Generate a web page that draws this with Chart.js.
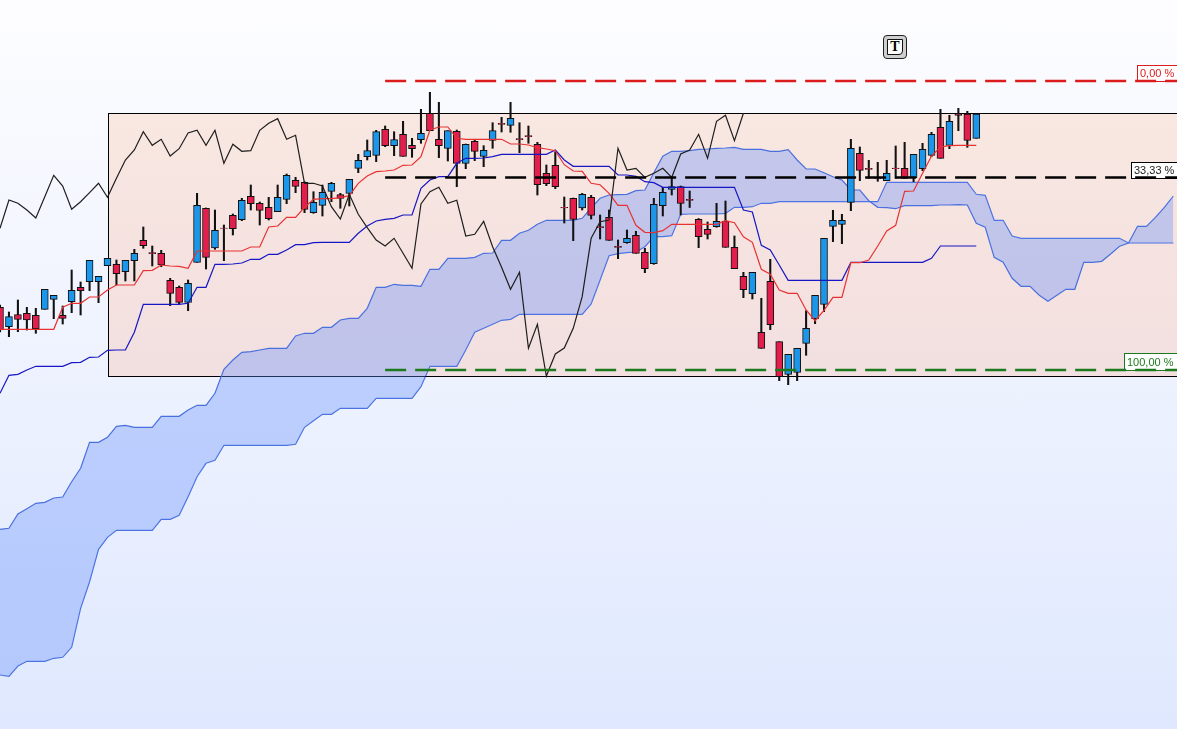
<!DOCTYPE html>
<html>
<head>
<meta charset="utf-8">
<title>Ichimoku</title>
<script src="https://cdn.jsdelivr.net/npm/chart.js@4"></script>
<style>
  html, body { margin: 0; padding: 0; }
  body { width: 1177px; height: 729px; overflow: hidden; position: relative; background: linear-gradient(#fdfdff, #dfe8fe); }
  canvas { display: block; position: absolute; left: 0; top: 0; }
  #note { position: absolute; left: 883px; top: 35px; width: 22px; height: 22px; border: 1px solid #222; border-radius: 4px; background: #cfcfcf; }
  #note div { position: absolute; left: 3px; top: 3px; width: 14px; height: 14px; border: 1px solid #111; background: #fff; border-bottom-right-radius: 4px;
    font: bold 14px/14px "Liberation Serif", serif; text-align: center; color: #000; }
</style>
</head>
<body>
<canvas id="chart" width="1177" height="729"></canvas>
<div id="note"><div>T</div></div>
<script>
// candles, price units are arbitrary (the picture has no price axis)
var opens = [692.7,673.3,685.3,686.7,684.7,690.7,700.7,684.7,698.3,712.7,
  718.3,718.3,734.3,735.7,728.3,739.3,759.7,747.3,746.7,719.7,
  712.7,697.7,737.7,791.7,752,772,784.7,780.3,803.7,796.7,
  792.7,788.3,800.7,819.7,817.7,787.3,794.7,808.7,805.3,806.7,
  831.7,843.3,844.7,870.7,854.3,865.7,854.7,860.3,886.7,860.7,
  851.7,868.7,836.7,858.7,843.7,859.7,876.7,874.7,861.3,864.3,
  855.7,826.7,834.7,792.7,801.7,792,802.7,773.3,782.7,753.7,
  757.3,764.7,747.7,736.3,794.3,810.7,813.3,800.7,780.7,770.7,
  773.3,779,752.7,723.7,706.3,667.7,718.7,658.3,625.7,627.7,
  656.7,681.3,695.7,773.7,775.7,797.7,846.7,831.7,822.3,819.3,
  832,831.7,822.3,831.3,844.7,872.7,854.7,886.3,886,861.7];
var closes = [670,683.3,680.7,680,671.3,710.7,704.7,681.7,709.7,709.3,
  739.7,723.7,741.7,726.3,739.7,746.7,754.3,746.3,735,706.7,
  697.7,716.7,794.7,742.7,769.7,771.5,771.3,799.7,796.3,789.7,
  781.3,802.7,824.7,813.7,790.7,797.7,807.7,816.7,801.7,820.7,
  839.7,849.3,868.3,854.3,860.3,843.7,851.3,866.7,869.3,854.3,
  869.3,836.7,855.7,848.7,849.7,869.3,875.7,881.7,860.3,863.3,
  815.3,816.3,813.3,792,780.7,805.7,784.7,772.3,759.7,752.7,
  761.7,746.7,731.3,795.7,807.7,813.3,796.7,799.7,763.3,765.7,
  778.7,752.7,731.3,710.3,727.7,651.7,675.3,623.3,645.7,651.7,
  671.7,704.7,761.7,779.7,779.7,851.7,829.7,830.7,821.7,826.7,
  831.3,821.7,845.7,850.7,865.7,841.7,878.7,884.7,859.7,886];
var highs = [695,688,700,692.7,691.7,710.7,704.7,694,730,718,
  739.7,723.7,741.7,740,739.7,750.7,773,754,749.7,721.7,
  714,720,806.7,792,790,775,786,801.7,815,798,
  802.7,815,826,822.7,818.3,808.3,815,817.7,806.7,820.7,
  845.7,860,869.7,874,868.3,878.7,861.7,890.7,907.7,897.7,
  869.3,870,856,859.7,854.3,877.3,882.7,897.7,877.3,874,
  857.7,835,848.3,803,802,806.7,804.7,785,790,760,
  770,768.7,751.7,801.7,812.7,822.7,814,809,781.5,778,
  796.7,799,764,727.7,727.7,701.7,740.7,658.3,645.7,651.7,
  689.3,704.7,761.7,789.7,785.7,860.7,853,839.7,837.7,839.7,
  854,857.7,845.7,856.7,867.7,890.7,884.7,891.7,888.7,886];
var lows = [668,663.3,668.3,670,666.7,690.7,681.3,676,687.3,685,
  709.3,697.3,734.3,715,719,719,751.7,734,733.3,694.3,
  696,689.3,737.7,731,750.7,739.3,765,779.3,790,775,
  780,788.3,796.3,807.3,787.3,786.7,784,798.3,791.7,794,
  827.3,840,838.3,853.3,844.3,843.7,842.7,856.7,869.3,842.3,
  839,813.3,831.3,839.3,833.3,851.7,868,867.7,847.3,856.7,
  805,814.3,811.3,777,759.3,790,781,761,759.7,741.3,
  756.7,746.7,727.3,735.7,784,805,785,792.5,752.3,761,
  772.7,752.7,731.3,702.3,701,651.7,670.3,619.3,615.3,619.3,
  644.7,676.3,688.3,758.3,756.3,789.3,819.3,821.7,818.7,819.3,
  821.7,821.7,818.3,829.3,843.3,841.7,851.3,869.3,852.7,861.7];

// ichimoku lines
var tenkan = [670.7,670.7,670.7,670.7,670.7,670.7,670.7,692.7,696.7,696.7,
  703,703,710,715,715,715,729.3,729.7,735,734,
  733.7,731.7,749,749,749,749,749,749,753,753,
  773,774,782.7,782.7,792.7,800.7,801.3,801.3,802.3,804.3,
  816.7,824,828.3,829,830,834.7,835,843.3,870,873,
  873,861.7,860.7,860.7,860.7,860.7,860.7,856,856,855,
  852.3,851,849.3,835.3,829,828.7,816.7,815.3,806.7,794.7,
  794.7,774.7,767.7,767.3,769.3,775.7,775.7,775.7,775.7,775.7,
  775.7,779.3,777.3,763.3,757.7,730.7,725.7,710,706.7,706.7,
  690,679.3,689.7,702.7,702.7,737.3,737.3,740,754,769,
  774.7,808.7,809,826.7,844,853,854.3,854.7,854.7,854.7];
var kijun = [606.7,624.7,625.7,630,633.7,633.7,633.7,633.7,637.3,637.7,
  642.7,643,649.7,650,650,667.7,695.7,695.7,695.7,695.7,
  695.7,696.7,712.7,712.7,735.7,735.7,736,737,740.7,740.7,
  745.7,745.7,750,755.3,755.3,757.3,757.7,757.7,757.7,757.7,
  766.7,774,779,780.7,781.7,785,785,811.7,820,823.3,
  823.3,836.7,841.7,841.7,842,843.3,845.7,845.7,845.7,845.7,
  845.7,845.7,850,840,833.7,833.7,833.7,833.7,833.7,825,
  825,823.7,818.3,817.3,812.7,812.7,812.7,812.7,812.7,812.7,
  812.7,812.7,812.7,790,788,754.7,750,735,719.7,719.7,
  719.7,719.7,719.7,719.7,719.7,737.7,737.7,737.7,737.7,737.7,
  737.7,737.7,737.7,737.7,741.7,754,754,754,754,754];
var chikou = [771.7,800,796.7,790,782,803.3,824.7,814,790.7,798.3,
  807.3,816.7,802.7,821.7,840,850,868.3,854.7,860.7,844,
  851.3,867,869.7,854.7,869.7,836.7,855.7,848.7,849.3,869.7,
  876.7,881.3,860.7,864.7,816.7,816.7,814,793.3,781,805.7,
  785.7,772.3,760,754,761.7,746.7,731.7,796,808.3,812.7,
  796.7,799.7,764,765.7,778.7,753.3,732.7,710.7,727.7,651.7,
  675.7,624,646,652,671.7,703.3,761.7,778.3,780,851.7,
  830,831.7,822.7,826.7,831.7,822.7,846,850,865.7,841.7,
  878.7,884.7,859.3,886.7];
var spanA = [470.7,471.7,486,491.3,496.7,497.7,502,503,518.3,531.7,
  557.7,557.7,562.7,573.7,574.7,572.7,572.7,572.7,583.7,583.7,
  583.7,590,594.7,594.7,606.7,630.7,640,647.7,648.3,650,
  651.7,651.7,651.7,664,666.7,666.7,672.7,672.7,680,681.7,
  681.7,691.7,712.7,712.7,715.7,714.7,714.7,713.7,730.7,730.7,
  741.7,741.7,741.7,742.7,746.7,747,759.7,759.7,766.7,769.7,
  775.7,779.7,779.7,779.7,779.7,781.7,792,801.7,805,805.3,
  805.7,809.3,810,827.3,843.7,848.7,848.7,849.3,850.7,851,
  851.7,852,852.7,850.7,850.7,850.7,848.7,848.7,850.3,840,
  831,831,827.3,823.3,820,810,810,799.3,792.7,792.3,
  791.3,794.3,794.3,794.3,794.3,795,795,795.3,795,776.7,
  772.7,742.7,737.7,721.7,713.7,713.7,705,698.7,704.7,710.7,
  710.7,737.7,737.7,738.7,746,753.7,757,773.7,773.7,782.7,
  792.7,804];
var spanB = [325,323.7,334,338.7,338.7,338.7,341.7,342.7,352.7,391.7,
  418.3,450.7,462.7,469.7,469.7,469.7,469.7,469.7,480.7,480.7,
  484.7,503.3,523.3,536.7,539.7,554.7,554.7,554.7,554.7,554.7,
  554.7,554.7,554.7,555.7,572.7,579.3,585.7,585.7,591.7,591.7,
  591.7,591.7,601.7,601.7,601.7,601.7,601.7,613.3,633.7,633.7,
  633.7,633.7,650,667.7,671.7,675.7,679.7,680.7,685.7,685.7,
  685.7,685.7,685.7,685.7,685.7,685.7,696,720,744.3,746.3,
  747.3,748,753.3,763.3,763.3,764.3,785.7,786,786,786,
  786,786.7,792.7,792.7,793.3,796.7,796.7,798.3,798.3,798.3,
  798.3,798.3,798.3,798.3,798.3,798.3,798.3,798.3,798.3,817.7,
  817.7,817.7,817.7,817.7,817.7,817.7,817.7,817.7,817.7,805.7,
  804.7,779.7,779.7,764,761.7,761.7,761.7,761.7,761.7,761.7,
  761.7,761.7,761.7,761.7,761.7,761.7,757,757,757,757,
  757,757];

// retracement levels
var fibLabels = ["0,00 %", "33,33 %", "100,00 %"];
var fibValues = [919, 822.5, 630];
var fibColors = ["#dc1c1c", "#000000", "#1c7a1c"];
var fibStart = 43;
var boxStart = 12.06;
var boxTop = 886.7;
var boxBottom = 624;

var xMin = 0, xMax = 131.41;

function points(values) {
  return values.map(function (v, i) { return { x: i, y: v }; });
}
function fibLine(i) {
  return {
    type: "line",
    data: [{ x: fibStart, y: fibValues[i] }, { x: xMax, y: fibValues[i] }],
    borderColor: fibColors[i],
    borderWidth: 2.4,
    borderDash: [21, 9],
    pointRadius: 0,
    order: 1,
  };
}
function line(values, color, order, extra) {
  return Object.assign({
    type: "line",
    data: points(values),
    borderColor: color,
    borderWidth: 1.2,
    pointRadius: 0,
    tension: 0,
    order: order,
  }, extra || {});
}

var bodyColors = closes.map(function (c, i) {
  return c >= opens[i] ? "#1c96e8" : "#e21f4c";
});

var retracementBox = {
  id: "retracementBox",
  beforeDatasetsDraw: function (chart) {
    var ctx = chart.ctx;
    var x = chart.scales.x.getPixelForValue(boxStart);
    var top = chart.scales.y.getPixelForValue(boxTop);
    var bottom = chart.scales.y.getPixelForValue(boxBottom);
    var grad = ctx.createLinearGradient(0, top, 0, bottom);
    grad.addColorStop(0, "#f9e7e1");
    grad.addColorStop(1, "#f2dfe0");
    ctx.save();
    ctx.fillStyle = grad;
    ctx.fillRect(x, top, chart.width - x, bottom - top);
    ctx.restore();
  },
  afterDatasetDraw: function (chart, args) {
    // border goes above the cloud fill, below the candles
    if (args.index === 1) {
      var ctx = chart.ctx;
      var x = Math.round(chart.scales.x.getPixelForValue(boxStart)) + 0.5;
      var top = Math.round(chart.scales.y.getPixelForValue(boxTop)) + 0.5;
      var bottom = Math.round(chart.scales.y.getPixelForValue(boxBottom)) + 0.5;
      ctx.save();
      ctx.strokeStyle = "#000";
      ctx.lineWidth = 1;
      ctx.strokeRect(x, top, chart.width + 10 - x, bottom - top);
      ctx.restore();
    }
    // labels sit under the dashed levels
    if (args.index === 6) drawLabels(chart);
  },
};

function drawLabels(chart) {
  var ctx = chart.ctx;
  var widths = [40, 46, 53];
  var heights = [16, 16, 17];
  ctx.save();
  ctx.font = '11px "Liberation Sans", Arial, sans-serif';
  ctx.textBaseline = "alphabetic";
  fibLabels.forEach(function (label, i) {
    var bottom = Math.round(chart.scales.y.getPixelForValue(fibValues[i]));
    var left = chart.width - widths[i] + 0.5;
    ctx.fillStyle = "#fff";
    ctx.fillRect(left, bottom - heights[i] + 0.5, widths[i] + 5, heights[i]);
    ctx.strokeStyle = fibColors[i];
    ctx.lineWidth = 1;
    ctx.strokeRect(left, bottom - heights[i] + 0.5, widths[i] + 5, heights[i]);
    ctx.fillStyle = i == 1 ? "#222" : fibColors[i];
    ctx.fillText(label, left + 2.5, bottom - 4);
  });
  ctx.restore();
}

var cloudLine = "#4a70de";
var chart = new Chart(document.getElementById("chart"), {
  data: {
    datasets: [
      line(spanA, cloudLine, 10, { fill: { target: "+1" }, backgroundColor: "rgba(96,139,251,0.35)" }),
      line(spanB, cloudLine, 10),
      {
        type: "bar",
        data: highs.map(function (h, i) { return { x: i, y: [lows[i], h] }; }),
        backgroundColor: "#111",
        barThickness: 1.4,
        grouped: false,
        order: 9,
      },
      {
        type: "bar",
        data: opens.map(function (o, i) { return { x: i, y: [o, closes[i]] }; }),
        backgroundColor: bodyColors,
        borderColor: "#111",
        borderWidth: 1,
        borderSkipped: false,
        barThickness: 7,
        grouped: false,
        order: 8,
      },
      line(kijun, "#1616c4", 5),
      line(tenkan, "#e83232", 4),
      line(chikou, "#1e1e1e", 3),
      fibLine(0),
      fibLine(1),
      fibLine(2),
    ],
  },
  options: {
    responsive: false,
    animation: false,
    layout: { padding: 0 },
    plugins: { legend: { display: false }, tooltip: { enabled: false } },
    scales: {
      x: { type: "linear", min: xMin, max: xMax, display: false, offset: false },
      y: { type: "linear", min: 271, max: 1000, display: false },
    },
  },
  plugins: [retracementBox],
});
</script>
</body>
</html>
